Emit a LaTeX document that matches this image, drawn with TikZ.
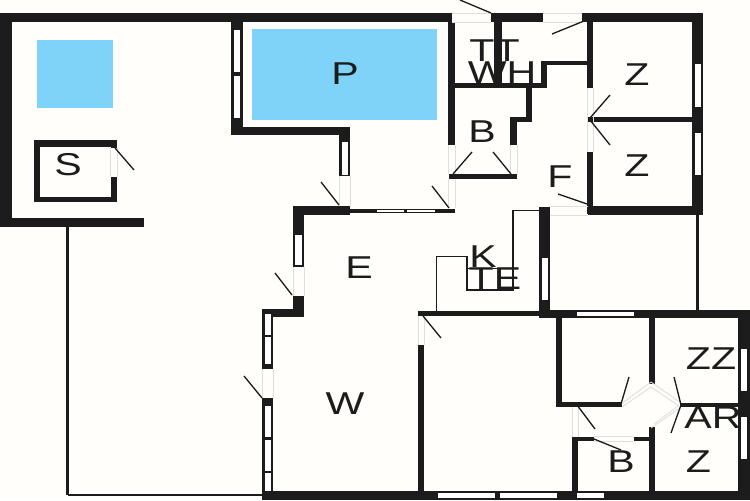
\documentclass[tikz,border=0pt]{standalone}
\usepackage{fontspec}
\setmainfont{Liberation Sans}
\definecolor{wallblack}{HTML}{1C1C1C}
\definecolor{poolblue}{HTML}{80D3F8}
\definecolor{paper}{HTML}{FFFEFB}
\tikzset{wall/.style={fill=wallblack,draw=none},
  window/.style={fill=white,draw=none},
  gap/.style={gray!25,line width=0.5pt},
  swing/.style={wallblack,line width=0.75pt},
  outline/.style={wallblack,line width=1.2pt},
  counter/.style={wallblack,line width=0.7pt},
  water/.style={fill=poolblue,draw=none},
  room/.style={wallblack,inner sep=0pt,xscale=1.3,font=\fontsize{18}{18}\selectfont}}

\begin{document}
\begin{tikzpicture}[x=0.02cm,y=-0.02cm]
   \fill[paper] (0,0) rectangle (750,500);
   \useasboundingbox (0,0) rectangle (750,500);
   % water
   \fill[water] (37,40.5) rectangle (113,108);
   \fill[water] (252,29) rectangle (436.5,119.5);
   % terrace lines
   \draw[outline,line width=1.6pt] (67.5,226) -- (67.5,495);
   \draw[outline,line width=1.1pt] (67.5,495) -- (262,495);
   \draw[outline,line width=1.6pt] (697.5,215) -- (697.5,310);
   % kitchen
   \draw[counter] (436.5,311) -- (436.5,256.5) -- (467,256.5) -- (467,290) -- (513,290) -- (513,210.5) -- (539,210.5);
   \draw[counter] (467,268.5) -- (513,268.5);
   % outer walls, top left
   \draw[wall] (0,13) rectangle (452,22);
   \draw[wall] (491,13) rectangle (543,22);
   \draw[wall] (582,13) rectangle (703,22);
   \draw[wall] (0,13) rectangle (12,226.5);
   \draw[wall] (0,218) rectangle (144,226.5);
   % shed
   \draw[wall] (33.5,140) rectangle (117,146.5);
   \draw[wall] (33.5,140) rectangle (40,202);
   \draw[wall] (33.5,197) rectangle (117,202);
   \draw[wall] (110.5,140) rectangle (117,148);
   \draw[wall] (110.5,177) rectangle (117,202);
   % pool walls
   \draw[wall] (231,13) rectangle (242.5,135);
   \draw[wall] (231,127) rectangle (350,135);
   \draw[wall] (339,127) rectangle (350,176);
   \draw[wall] (293,206) rectangle (350,215);
   \draw[wall] (350,208.5) rectangle (455,213);
   \draw[wall] (293,206) rectangle (304,267);
   \draw[wall] (292.5,296) rectangle (304,317);
   \draw[wall] (262,309) rectangle (304,317);
   \draw[wall] (262,309) rectangle (273,369);
   \draw[wall] (262,398) rectangle (273,500);
   \draw[wall] (262,491) rectangle (750,500);
   % bath and utility
   \draw[wall] (448,22) rectangle (455,145);
   \draw[wall] (449,174) rectangle (517,179);
   \draw[wall] (510,117) rectangle (517,145);
   \draw[wall] (510,117) rectangle (532,122);
   \draw[wall] (526,86) rectangle (532,122);
   \draw[wall] (452,83) rectangle (547,88);
   \draw[wall] (541,61) rectangle (547,88);
   \draw[wall] (541,61) rectangle (590,65);
   \draw[wall] (494,13) rectangle (502,85);
   % bedrooms, top right
   \draw[wall] (587,13) rectangle (593,88);
   \draw[wall] (587,117) rectangle (692,122);
   \draw[wall] (587,152) rectangle (593,214);
   \draw[wall] (588,206) rectangle (703,215);
   \draw[wall] (692,13) rectangle (703,215);
   % kitchen wall and lower block
   \draw[wall] (539,207) rectangle (549.5,317);
   \draw[wall] (418,311) rectangle (539,316);
   \draw[wall] (539,310) rectangle (750,318);
   \draw[wall] (418,345) rectangle (424,491);
   \draw[wall] (738,310) rectangle (750,500);
   \draw[wall] (556,317) rectangle (562,406.5);
   \draw[wall] (556,402) rectangle (622,406.5);
   \draw[wall] (649,317) rectangle (655,384);
   \draw[wall] (680,403) rectangle (738,406.5);
   \draw[wall] (649,427) rectangle (654.5,491);
   \draw[wall] (572,437) rectangle (594,441);
   \draw[wall] (634,437) rectangle (651,441);
   \draw[wall] (572,437) rectangle (578,491);
   % windows
   \draw[window] (234,30.5) rectangle (240,72.5);
   \draw[window] (234,76) rectangle (240,118);
   \draw[window] (342,142) rectangle (348,174.5);
   \draw[window] (377,209.5) rectangle (404,212);
   \draw[window] (407,209.5) rectangle (435,212);
   \draw[window] (295,235) rectangle (301.5,265);
   \draw[window] (264.5,314) rectangle (271,335);
   \draw[window] (264.5,337) rectangle (271,364);
   \draw[window] (264.5,406) rectangle (271,437);
   \draw[window] (264.5,440) rectangle (271,471);
   \draw[window] (264.5,473) rectangle (271,491);
   \draw[window] (695,64.5) rectangle (701,107);
   \draw[window] (695,133) rectangle (701,175);
   \draw[window] (541.5,258) rectangle (548,300);
   \draw[window] (577,312) rectangle (634,316);
   \draw[window] (741,349) rectangle (747,391);
   \draw[window] (741,417) rectangle (747,459);
   \draw[window] (438,493) rectangle (495,498);
   \draw[window] (500,493) rectangle (557,498);
   \draw[window] (577,493) rectangle (604,498);
   % door openings
   \draw[gap] (110.5,148) -- (110.5,177);
   \draw[gap] (117,148) -- (117,177);
   \draw[gap] (339,176) -- (339,206);
   \draw[gap] (350,176) -- (350,206);
   \draw[gap] (293,267) -- (293,296);
   \draw[gap] (304,267) -- (304,296);
   \draw[gap] (262,369) -- (262,398);
   \draw[gap] (273,369) -- (273,398);
   \draw[gap] (452,13) -- (491,13);
   \draw[gap] (452,22) -- (491,22);
   \draw[gap] (543,13) -- (582,13);
   \draw[gap] (543,22) -- (582,22);
   \draw[gap] (448,145) -- (448,174);
   \draw[gap] (455,145) -- (455,174);
   \draw[gap] (510,145) -- (510,174);
   \draw[gap] (517,145) -- (517,174);
   \draw[gap] (448,179) -- (448,208);
   \draw[gap] (455,179) -- (455,208);
   \draw[gap] (587,88) -- (587,152);
   \draw[gap] (593,88) -- (593,152);
   \draw[gap] (549.5,206) -- (588,206);
   \draw[gap] (549.5,215) -- (588,215);
   \draw[gap] (418,316) -- (418,345);
   \draw[gap] (424,316) -- (424,345);
   \draw[gap] (621,404) -- (651,382);
   \draw[gap] (622,407) -- (651,387);
   \draw[gap] (651,382) -- (681,403);
   \draw[gap] (651,387) -- (679,406);
   \draw[gap] (681,407) -- (651,428);
   \draw[gap] (678,406) -- (654,424);
   \draw[gap] (572,406.5) -- (572,437);
   \draw[gap] (578,406.5) -- (578,437);
   \draw[gap] (594,436.5) -- (634,436.5);
   \draw[gap] (594,441) -- (634,441);
   % door swings
   \draw[swing] (115,148) -- (134,170);
   \draw[swing] (339,205) -- (321,182);
   \draw[swing] (292,295) -- (275,273);
   \draw[swing] (262,398) -- (244,376);
   \draw[swing] (491,13) -- (460,0);
   \draw[swing] (584,21) -- (552,34);
   \draw[swing] (453,174) -- (472,152);
   \draw[swing] (511,174) -- (493,152);
   \draw[swing] (449,208) -- (432,186);
   \draw[swing] (590,118) -- (610,95);
   \draw[swing] (590,120) -- (610,145);
   \draw[swing] (590,205) -- (558,194);
   \draw[swing] (423,316) -- (441,338);
   \draw[swing] (621,404) -- (629,377);
   \draw[swing] (681,405) -- (674,377);
   \draw[swing] (681,405) -- (671,433);
   \draw[swing] (577,405) -- (595,429);
   \draw[swing] (594,439) -- (621,450);
   % labels
   \node[room] (shed) at (68,165) {S};
   \node[room] (pool) at (345,74) {P};
   \node[room] (toilet) at (494.5,51) {TT};
   \node[room] (utility) at (502,73) {WH};
   \node[room] (bathone) at (482,131.5) {B};
   \node[room] (hall) at (560,177) {F};
   \node[room] (roomone) at (637,75) {Z};
   \node[room] (roomtwo) at (637,165.5) {Z};
   \node[room] (entry) at (359,268) {E};
   \node[room] (kitchen) at (483,256.5) {K};
   \node[room] (terrace) at (495,279) {TE};
   \node[room] (living) at (345,404) {W};
   \node[room] (twin) at (711,359) {ZZ};
   \node[room] (store) at (713,417.5) {AR};
   \node[room] (roomthree) at (698.5,461.5) {Z};
   \node[room] (bathtwo) at (621,461.5) {B};
\end{tikzpicture}
\end{document}
